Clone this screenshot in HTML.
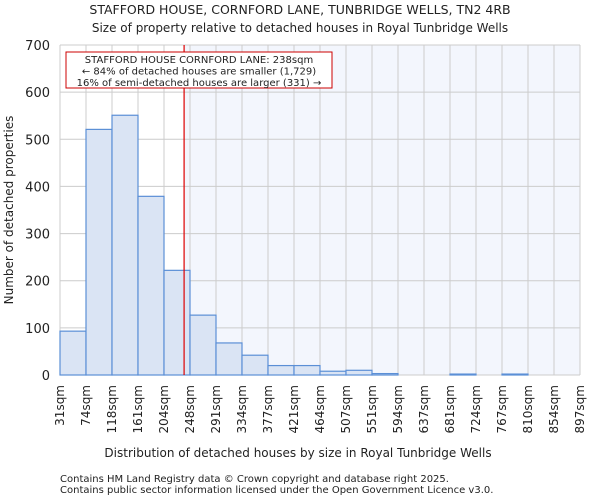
<!DOCTYPE html>
<html><head><meta charset="utf-8"><style>
body{margin:0;background:#fff;font-family:"DejaVu Sans","Liberation Sans",sans-serif;}
svg text{font-family:"DejaVu Sans","Liberation Sans",sans-serif;fill:#222;}
</style></head><body>
<svg id="c" width="600" height="500" xmlns="http://www.w3.org/2000/svg">
<text x="300" y="14" text-anchor="middle" font-size="12.5">STAFFORD HOUSE, CORNFORD LANE, TUNBRIDGE WELLS, TN2 4RB</text>
<text x="300" y="32" text-anchor="middle" font-size="12">Size of property relative to detached houses in Royal Tunbridge Wells</text>
<g id="plot"></g>
<text x="298" y="457" text-anchor="middle" font-size="12">Distribution of detached houses by size in Royal Tunbridge Wells</text>
<text transform="translate(13,210) rotate(-90)" text-anchor="middle" font-size="12">Number of detached properties</text>
<text x="60" y="482" font-size="10" fill="#444">Contains HM Land Registry data © Crown copyright and database right 2025.</text>
<text x="60" y="493" font-size="10" fill="#444">Contains public sector information licensed under the Open Government Licence v3.0.</text>
</svg>
<script>
const binLabels=["31sqm","74sqm","118sqm","161sqm","204sqm","248sqm","291sqm","334sqm","377sqm","421sqm","464sqm","507sqm","551sqm","594sqm","637sqm","681sqm","724sqm","767sqm","810sqm","854sqm","897sqm"];
const binEdges=[31,74,118,161,204,248,291,334,377,421,464,507,551,594,637,681,724,767,810,854,897];
const counts=[93,521,551,379,222,127,68,42,20,20,8,10,3,0,0,2,0,2,0,0];
const yTicks=[0,100,200,300,400,500,600,700];
const markerValue=238;
const NS="http://www.w3.org/2000/svg";
const L=60,R=580,T=45,B=375,yMax=700;
const n=counts.length;
const xi=i=>L+(R-L)*i/n;
const xv=v=>{let i=0;while(i<binEdges.length-2&&v>binEdges[i+1])i++;return xi(i)+(v-binEdges[i])/(binEdges[i+1]-binEdges[i])*(R-L)/n;};
const y=v=>B-(B-T)*v/yMax;
const g=document.getElementById('plot');
function mk(t,a){const e=document.createElementNS(NS,t);for(const k in a)e.setAttribute(k,a[k]);g.appendChild(e);return e;}
const mx=xv(markerValue);
let e=mk('rect',{x:mx,y:T,width:R-mx,height:B-T,fill:'#f3f6fd'});


for(let i=0;i<=n;i++){e=mk('line',{x1:xi(i),x2:xi(i),y1:T,y2:B,stroke:'#ccc','stroke-width':1});

}
yTicks.forEach(t=>{e=mk('line',{x1:L,x2:R,y1:y(t),y2:y(t),stroke:'#ccc','stroke-width':1});


e=mk('text',{x:L-10,y:y(t)+5,'text-anchor':'end','font-size':13});e.textContent=t;

});
counts.forEach((c,i)=>{if(c<=0)return;e=mk('rect',{x:xi(i),y:y(c),width:xi(i+1)-xi(i),height:B-y(c),fill:'#dae4f4',stroke:'#5b8fd6','stroke-width':1.2});

});
binLabels.forEach((l,i)=>{const x=xi(i)+4;e=mk('text',{x:x,y:B+10,'text-anchor':'end','font-size':12,transform:`rotate(-90 ${x} ${B+10})`});e.textContent=l;

});
e=mk('line',{x1:mx,x2:mx,y1:T,y2:B,stroke:'#d00','stroke-width':1.2});


e=mk('rect',{x:66,y:52,width:266,height:36,fill:'#fff',stroke:'#c00','stroke-width':1});


["STAFFORD HOUSE CORNFORD LANE: 238sqm","← 84% of detached houses are smaller (1,729)","16% of semi-detached houses are larger (331) →"].forEach((s,i)=>{e=mk('text',{x:199,y:63+i*11.5,'text-anchor':'middle','font-size':10});e.textContent=s;

});
</script>
</body></html>
